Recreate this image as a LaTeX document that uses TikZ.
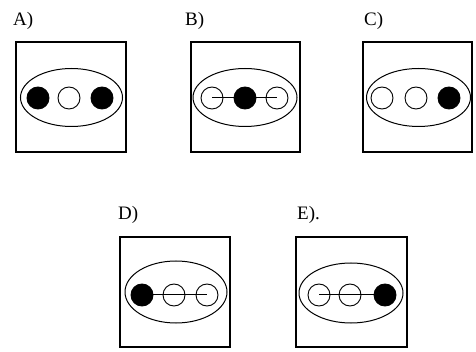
\documentclass[tikz,border=0pt]{standalone}
\usepackage{fontspec}
\setmainfont{Liberation Serif}
\begin{document}
\begin{tikzpicture}[x=1pt,y=-1pt,
  frame/.style={draw, line width=1.4pt},
  oval/.style={draw, line width=1pt},
  ball/.style={circle, draw, line width=0.9pt, minimum size=22pt, inner sep=0pt},
  full/.style={ball, fill=black},
  empty/.style={ball, fill=white},
  bar/.style={line width=1pt},
  lab/.style={anchor=west, inner sep=0pt, font=\fontsize{19}{19}\selectfont}]
\useasboundingbox (0,0) rectangle (476,352);
% A
\node[lab] (la) at (13,21) {A)};
\draw[frame] (16,42) rectangle (126,152);
\draw[oval] (71.5,97.5) ellipse [x radius=51, y radius=29];
\node[full] (a1) at (38,98) {};
\node[empty] (a2) at (69,98) {};
\node[full] (a3) at (102,98) {};
% B
\node[lab] (lb) at (185,21) {B)};
\draw[frame] (191,42) rectangle (300,152);
\draw[oval] (245,97.5) ellipse [x radius=52, y radius=29];
\node[empty] (b1) at (212,98) {};
\node[empty] (b3) at (277,98) {};
\draw[bar] (b1.center) -- (b3.center);
\node[full] (b2) at (245,98) {};
% C
\node[lab] (lc) at (364,21) {C)};
\draw[frame] (363,42) rectangle (472,152);
\draw[oval] (418.5,97.5) ellipse [x radius=52, y radius=29];
\node[empty] (c1) at (382,98) {};
\node[empty] (c2) at (416,98) {};
\node[full] (c3) at (449,98) {};
% D
\node[lab] (ld) at (118,215) {D)};
\draw[frame] (120,237) rectangle (230,347);
\draw[oval] (176,292) ellipse [x radius=51, y radius=31];
\node[empty] (d2) at (174,295) {};
\node[empty] (d3) at (207,295) {};
\draw[bar] (142,295) -- (d3.center);
\node[full] (d1) at (142,295) {};
% E
\node[lab] (le) at (297,215) {E).};
\draw[frame] (296,237) rectangle (407,347);
\draw[oval] (351,293) ellipse [x radius=52, y radius=30];
\node[empty] (e1) at (319,295) {};
\node[empty] (e2) at (350,295) {};
\draw[bar] (e1.center) -- (385,295);
\node[full] (e3) at (385,295) {};
\end{tikzpicture}
\end{document}
